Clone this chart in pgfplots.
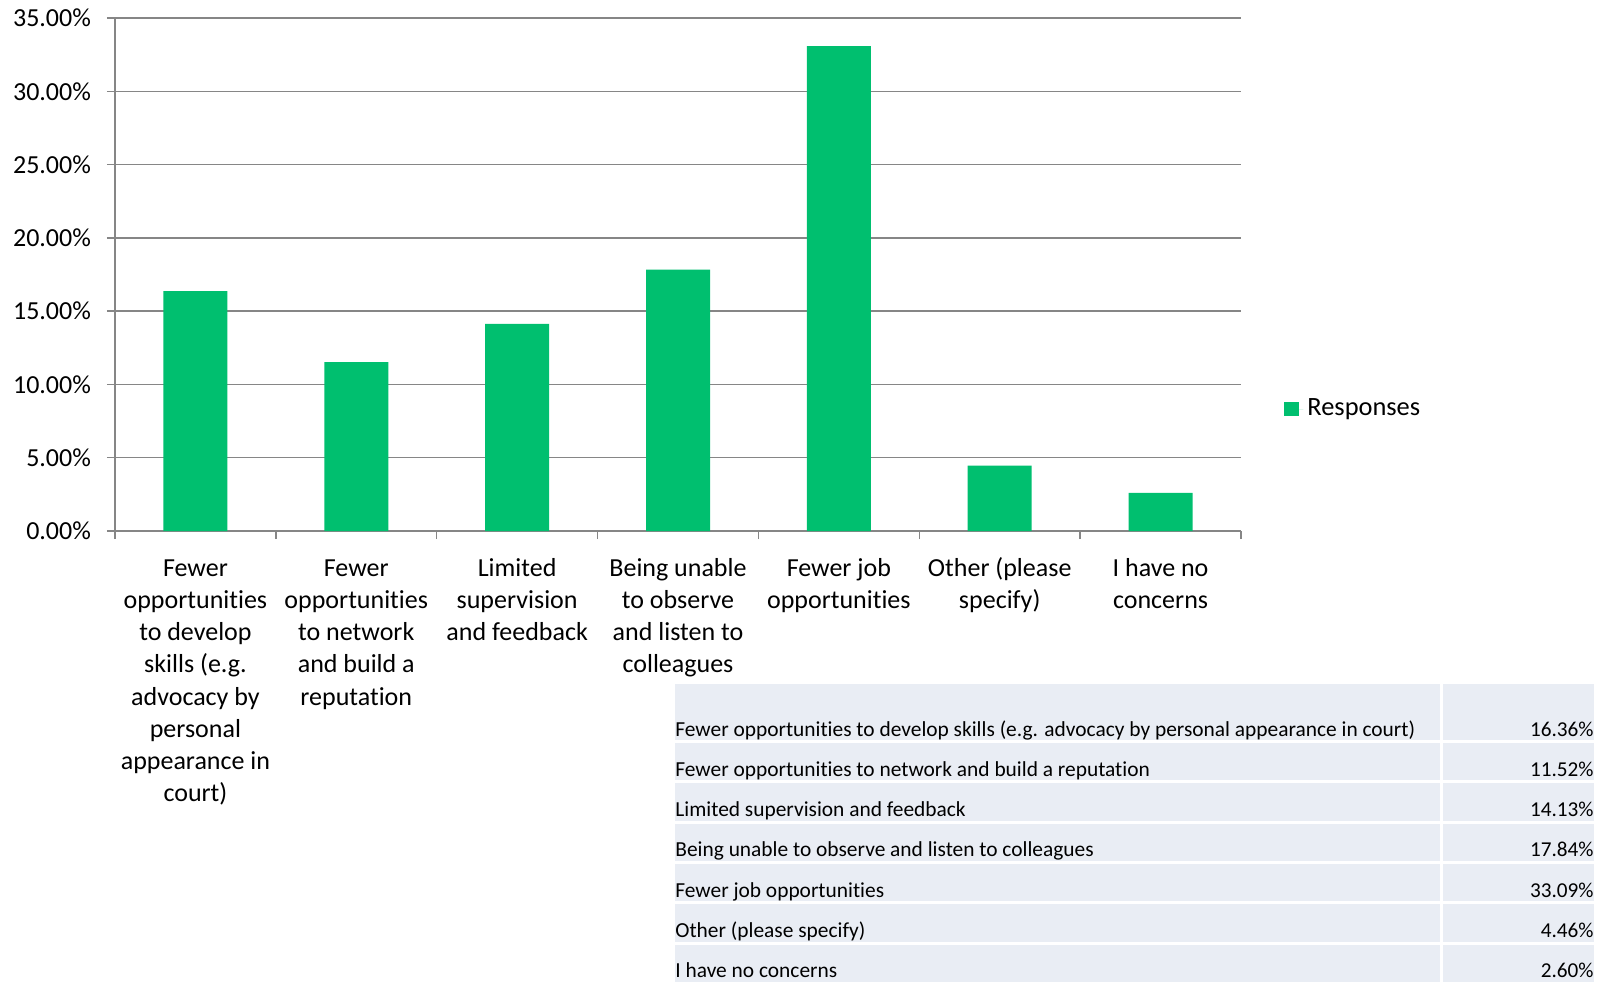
\documentclass[border=0pt]{standalone}
\usepackage{fontspec}
\setmainfont{Carlito}[Ligatures=NoCommon]
\usepackage{pgfplots}
\usepackage{pgfplotstable}
\pgfplotsset{compat=1.18}
\definecolor{barcol}{RGB}{0,191,111}
\definecolor{gridcol}{RGB}{134,134,134}
\definecolor{tblcol}{RGB}{233,237,244}
\pgfplotstableread{
x y
0 16.36
1 11.52
2 14.13
3 17.84
4 33.09
5 4.46
6 2.60
}\datatable
\begin{document}
\begin{tikzpicture}
\begin{scope}[x=0.5pt,y=-0.5pt]
\useasboundingbox (0,0) rectangle (1610,980);
\end{scope}
\begin{axis}[
  at={(57.5pt,-265.5pt)}, anchor=south west,
  width=563pt, height=256.5pt, scale only axis,
  xmin=-0.5, xmax=6.5, ymin=0, ymax=35,
  ybar, bar width=32pt,
  axis x line*=bottom, axis y line*=left,
  axis line style={draw=gridcol, line width=0.75pt},
  ymajorgrids, grid style={draw=gridcol, line width=0.75pt},
  ytick={0,5,...,35},
  yticklabel={\pgfmathprintnumber[fixed,fixed zerofill,precision=2]{\tick}\%},
  /pgf/number format/assume math mode=true,
  tick align=outside, major tick length=4pt, minor tick length=4pt,
  every tick/.style={draw=gridcol, line width=0.75pt},
  xtick={0,...,6},
  major x tick style={draw=none},
  minor xtick={-0.5,0.5,...,6.5},
  xticklabels={
    {\strut Fewer\\opportunities\\to develop\\skills (e.g.\\advocacy by\\personal\\appearance in\\court)},
    {\strut Fewer\\opportunities\\to network\\and build a\\reputation},
    {\strut Limited\\supervision\\and feedback},
    {\strut Being unable\\to observe\\and listen to\\colleagues},
    {\strut Fewer job\\opportunities},
    {\strut Other (please\\specify)},
    {\strut I have no\\concerns}},
  x tick label style={align=center, anchor=north, font=\fontsize{13}{16.1}\selectfont, yshift=-3.8pt},
  y tick label style={font=\fontsize{13}{16.25}\selectfont, xshift=-4.5pt},
  legend style={at={(1,0.2437)}, anchor=west, xshift=18.5pt, yshift=-1.5pt, draw=none, fill=none,
    font=\fontsize{13.2}{16.25}\selectfont},
  legend image code/.code={\fill[barcol] (0pt,-3.6pt) rectangle (7.4pt,3.6pt); \path (0pt,0pt) -- (9.5pt,0pt);},
]
\addplot[fill=barcol, draw=none] table[x=x,y=y] {\datatable};
\addlegendentry{Responses}
\end{axis}
\begin{scope}[x=0.5pt,y=-0.5pt]
\fill[tblcol] (675,684) rectangle (1440,740);
\fill[tblcol] (1443,684) rectangle (1594,740);
\foreach \k in {1,...,6} {
  \pgfmathsetmacro{\top}{740+40.3*(\k-1)+3}
  \pgfmathsetmacro{\bot}{740+40.3*\k}
  \fill[tblcol] (675,\top) rectangle (1440,\bot);
  \fill[tblcol] (1443,\top) rectangle (1594,\bot);
}
\foreach \k/\lab/\val in {
  0/{Fewer opportunities to develop skills (e.g. advocacy by personal appearance in court)}/16.36\%,
  1/{Fewer opportunities to network and build a reputation}/11.52\%,
  2/{Limited supervision and feedback}/14.13\%,
  3/{Being unable to observe and listen to colleagues}/17.84\%,
  4/{Fewer job opportunities}/33.09\%,
  5/{Other (please specify)}/4.46\%,
  6/{I have no concerns}/2.60\%} {
  \pgfmathsetmacro{\bl}{740+40.3*\k-4}
  \node[anchor=base west, inner sep=0pt, font=\fontsize{10.7}{12.8}\selectfont] at (675,\bl) {\lab};
  \node[anchor=base east, inner sep=0pt, font=\fontsize{10.6}{12.8}\selectfont] at (1594,\bl) {\val};
}
\end{scope}
\end{tikzpicture}
\end{document}
